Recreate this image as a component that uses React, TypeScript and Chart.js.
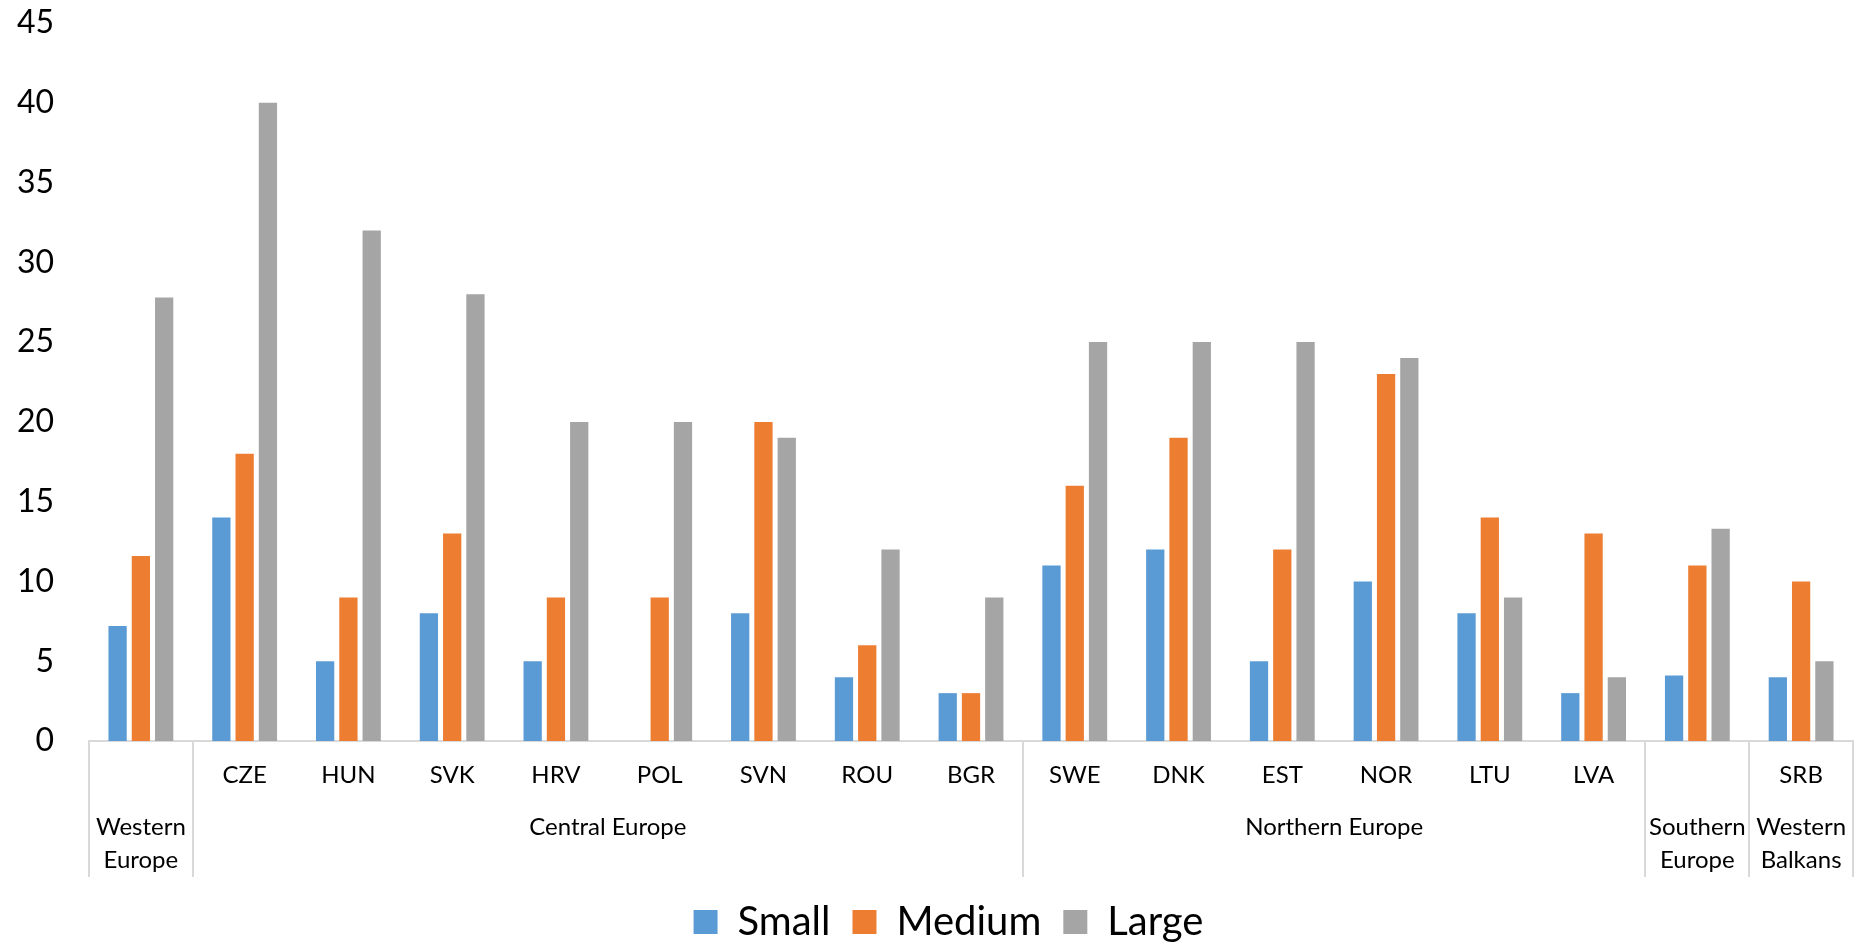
import React, { useEffect, useRef } from "react";
import { Chart, registerables } from "chart.js";

Chart.register(...registerables);

// Category (country) labels on the first level of the x axis
const categories = ["", "CZE", "HUN", "SVK", "HRV", "POL", "SVN", "ROU", "BGR", "SWE", "DNK", "EST", "NOR", "LTU", "LVA", "", "SRB"];

// Series values
const smallValues = [7.2, 14, 5, 8, 5, null, 8, 4, 3, 11, 12, 5, 10, 8, 3, 4.1, 4];
const mediumValues = [11.6, 18, 9, 13, 9, 9, 20, 6, 3, 16, 19, 12, 23, 14, 13, 11, 10];
const largeValues = [27.8, 40, 32, 28, 20, 20, 19, 12, 9, 25, 25, 25, 24, 9, 4, 13.3, 5];

// Second level (region) labels of the x axis
const groupNames = [["Western", "Europe"], ["Central Europe"], ["Northern Europe"], ["Southern", "Europe"], ["Western", "Balkans"]];
const groupStart = [0, 1, 9, 15, 16];
const groupSize = [1, 8, 6, 1, 1];

// Y axis ticks
const yMin = 0;
const yMax = 45;
const yStep = 5;

const seriesNames = ["Small", "Medium", "Large"];
const seriesColors = ["#5B9BD5", "#ED7D31", "#A5A5A5"];

export default function App() {
  const ref = useRef<HTMLCanvasElement | null>(null);

  useEffect(() => {
    if (!ref.current) return;
    Chart.defaults.font.family = "Lato";

    const groupPlugin = {
      id: "groupLabels",
      afterLayout(chart: any) {
        const lg = chart.legend;
        if (lg) {
          lg.left = 44;
          lg.right = chart.chartArea.right;
          lg.width = lg.right - lg.left;
        }
      },
      afterDraw(chart: any) {
        const { ctx, chartArea } = chart;
        const x = chart.scales.x;
        const base = chartArea.bottom;
        ctx.save();
        ctx.strokeStyle = "#d9d9d9";
        ctx.lineWidth = 2;
        const bounds = [...groupStart, categories.length];
        bounds.forEach((i) => {
          const px = Math.round(x.getPixelForValue(i - 0.5));
          ctx.beginPath();
          ctx.moveTo(px, base);
          ctx.lineTo(px, base + 136);
          ctx.stroke();
        });
        ctx.fillStyle = "#000";
        ctx.font = "24px Lato";
        ctx.textAlign = "center";
        ctx.textBaseline = "middle";
        groupNames.forEach((lines, g) => {
          const l = x.getPixelForValue(groupStart[g] - 0.5);
          const r = x.getPixelForValue(groupStart[g] + groupSize[g] - 0.5);
          const cx = (l + r) / 2;
          lines.forEach((t, k) => {
            ctx.fillText(t, cx, base + 86.5 + k * 32.5);
          });
        });
        ctx.restore();
      },
    };

    const values = [smallValues, mediumValues, largeValues];
    const chart = new Chart(ref.current, {
      type: "bar",
      data: {
        labels: categories,
        datasets: seriesNames.map((name, i) => ({
          label: name,
          data: values[i],
          backgroundColor: seriesColors[i],
          borderWidth: 0,
          categoryPercentage: 0.673,
          barPercentage: 0.785,
        })),
      },
      options: {
        animation: false,
        responsive: false,
        layout: { padding: { top: 23, left: 0, right: 14, bottom: 0 } },
        plugins: {
          legend: {
            position: "bottom",
            maxHeight: 63,
            labels: {
              font: { family: "Lato", size: 40 },
              color: "#000",
              boxWidth: 24,
              boxHeight: 24,
              padding: 22,
            },
          },
          tooltip: { enabled: false },
        },
        scales: {
          x: {
            grid: { display: false, drawTicks: false },
            border: { display: true, color: "#d9d9d9", width: 2 },
            ticks: {
              font: { family: "Lato", size: 24 },
              color: "#000",
              padding: 20,
              autoSkip: false,
              maxRotation: 0,
              minRotation: 0,
            },
            afterFit(s: any) {
              s.height = 139;
            },
          },
          y: {
            min: yMin,
            max: yMax,
            ticks: {
              stepSize: yStep,
              font: { family: "Lato", size: 32 },
              color: "#000",
              padding: 35,
            },
            grid: { display: false, drawTicks: false },
            border: { display: false },
            afterFit(s: any) {
              s.width = 89;
              s.paddingTop = 0;
              s.paddingBottom = 0;
            },
          },
        },
      },
      plugins: [groupPlugin],
    } as any);

    return () => chart.destroy();
  }, []);

  return (
    <div style={{ position: "fixed", left: 0, top: 0, width: 1867, height: 943, background: "#fff" }}>
      <canvas ref={ref} width={1867} height={943} style={{ display: "block" }} />
    </div>
  );
}
